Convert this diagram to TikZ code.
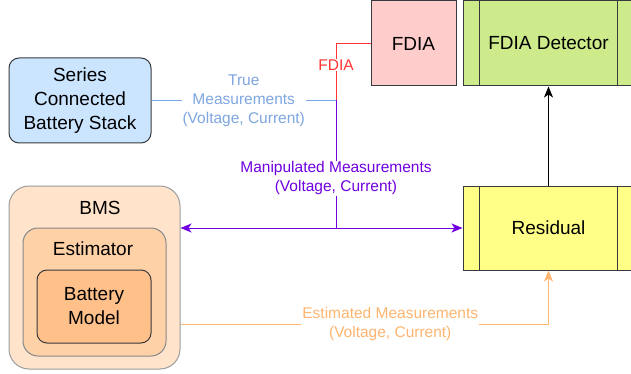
\documentclass[tikz,border=0pt]{standalone}
\usepackage{fontspec}
\setmainfont{Liberation Sans}
\usetikzlibrary{arrows.meta}
\definecolor{edgegray}{HTML}{36393D}
\definecolor{stackblue}{HTML}{CCE5FF}
\definecolor{fdiapink}{HTML}{FFCCCC}
\definecolor{detgreen}{HTML}{CDEB8B}
\definecolor{resyellow}{HTML}{FFFF88}
\definecolor{bmsout}{HTML}{FFE3CA}
\definecolor{estfill}{HTML}{FFD1A6}
\definecolor{modelfill}{HTML}{FFC08A}
\definecolor{truecol}{HTML}{7EA6E0}
\definecolor{fdiacol}{HTML}{FF3333}
\definecolor{manipcol}{HTML}{7000E0}
\definecolor{estcol}{HTML}{FFB570}
\newcommand\boxfont{\fontsize{19}{24}\selectfont}
\newcommand\lblfont{\fontsize{15.5}{19}\selectfont}
\begin{document}
\begin{tikzpicture}[x=1pt,y=-1pt,
    box/.style={draw=edgegray,line width=1pt,inner sep=0pt,align=center,font=\boxfont},
    lbl/.style={fill=white,inner sep=1pt,align=center,font=\lblfont},
    wire/.style={line width=1pt},
    tip/.style={-{Stealth[length=11pt,width=9pt,inset=3pt]}},
    tipboth/.style={{Stealth[length=11pt,width=9pt,inset=3pt]}-{Stealth[length=11pt,width=9pt,inset=3pt]}}]
  \useasboundingbox (0,0) rectangle (631,374);
  % blocks
  \node[box,fill=stackblue,rounded corners=10pt,minimum width=142pt,minimum height=85pt] (stack) at (80,100.5) {Series\\Connected\\Battery Stack};
  \node[box,fill=fdiapink,minimum width=85pt,minimum height=85pt] (fdia) at (413.5,43.5) {FDIA};
  \node[box,fill=detgreen,minimum width=171pt,minimum height=85pt] (det) at (548.5,43.5) {FDIA Detector};
  \node[box,fill=resyellow,minimum width=171pt,minimum height=84pt] (res) at (548.5,228) {Residual};
  \foreach \b in {det,res}{
    \draw[edgegray,line width=1pt] ([xshift=17pt]\b.north west) -- ([xshift=17pt]\b.south west);
    \draw[edgegray,line width=1pt] ([xshift=-17pt]\b.north east) -- ([xshift=-17pt]\b.south east);
  }
  % BMS, estimator, model
  \node[box,fill=bmsout,draw=edgegray!50,rounded corners=20pt,minimum width=171pt,minimum height=183pt] (bms) at (94.5,277.5) {};
  \node[box,fill=estfill,draw=edgegray!60,rounded corners=15pt,minimum width=143pt,minimum height=128pt] (est) at (94.5,292) {};
  \node[box,fill=modelfill,rounded corners=10pt,minimum width=114pt,minimum height=73pt] (model) at (94,306.5) {Battery\\Model};
  \node[font=\boxfont] (bmslbl) at (100,208) {BMS};
  \node[font=\boxfont] (estlbl) at (93,249) {Estimator};
  % connectors
  \coordinate (tap) at (336,100.5);
  \coordinate (bend) at (tap |- fdia.west);
  \coordinate (estrow) at (0,324);
  \draw[wire,truecol] (stack.east) -- node[lbl,text=truecol]{True\\Measurements\\(Voltage, Current)} (tap);
  \draw[wire,fdiacol] (tap) -- node[lbl,text=fdiacol,pos=0.62]{FDIA} (bend) -- (fdia.west);
  \draw[wire,manipcol] (tap) -- node[lbl,text=manipcol,pos=0.61]{Manipulated Measurements\\(Voltage, Current)} (tap |- res.west);
  \draw[wire,manipcol,tipboth] (bms.east |- res.west) -- (res.west);
  \draw[wire,tip] (res.north) -- (det.south);
  \draw[wire,estcol,tip] (bms.east |- estrow) -- node[lbl,text=estcol,pos=0.57]{Estimated Measurements\\(Voltage, Current)} (res.south |- estrow) -- (res.south);
\end{tikzpicture}
\end{document}
